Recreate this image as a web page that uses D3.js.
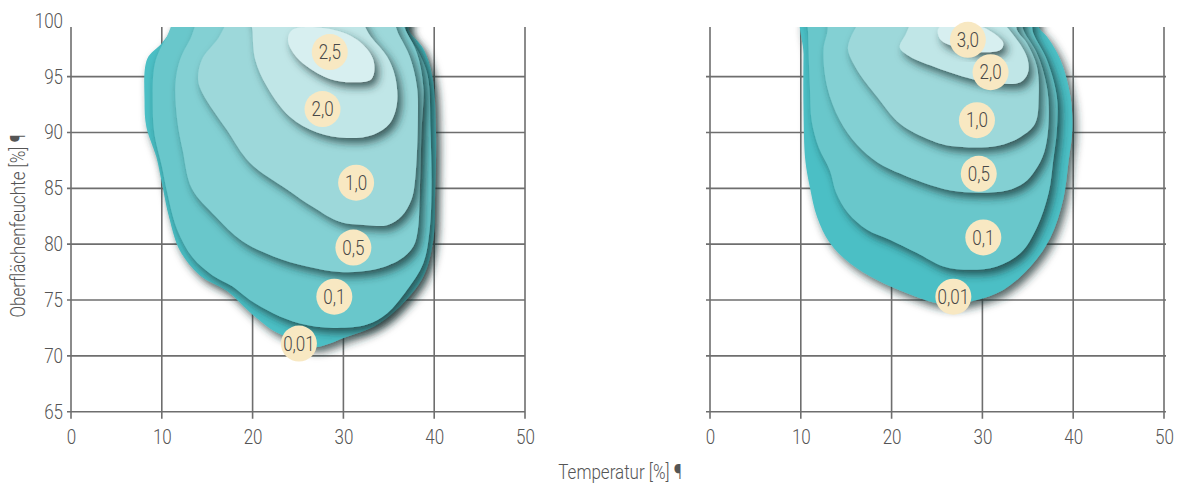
<!DOCTYPE html>
<html>
<head>
<meta charset="utf-8">
<script src="https://cdn.jsdelivr.net/npm/d3@7"></script>
<style>
  html, body { margin: 0; padding: 0; background: #fff; }
  svg { display: block; }
  text { font-family: 'Roboto', 'Liberation Sans', sans-serif; font-weight: 300; fill: #555; }
</style>
</head>
<body>
<svg id="chart" width="1177" height="484"></svg>
<script>
// ---------- data ----------
const tempTicks = [0, 10, 20, 30, 40, 50];
const humTicks = [65, 70, 75, 80, 85, 90, 95, 100];
const xTitle = "Temperatur [%] ¶";
const yTitle = "Oberflächenfeuchte [%] ¶";

const levelsLeft = ["0,01", "0,1", "0,5", "1,0", "2,0", "2,5"];
const levelsRight = ["0,01", "0,1", "0,5", "1,0", "2,0", "3,0"];

// contour outlines [temperature, humidity]
const left001 = [[12,101],[37.2,101],[37.2,99.2],[38.8,97.5],[39.8,95],[40.2,90],[40.1,84.6],[39.9,80.4],[38.8,77.1],[36.2,74.4],[33.3,72.6],[30.4,71.7],[27.2,70.8],[25.5,70.9],[23.7,71.7],[22.2,72.3],[19.7,73.9],[17.2,75.8],[14.2,77.2],[12,79.4],[10.8,82.4],[10,85.5],[9.4,87.8],[8.3,90.5],[8.1,92.8],[8.4,96.6],[10,98],[11.4,99.6]];
const left01 = [[12.5,101],[36.6,101],[36.9,99.1],[38.4,97],[39.3,95],[39.6,90],[39.7,84.8],[39.5,81.3],[38.8,78.3],[37,75.9],[34.8,73.8],[32.6,72.8],[28.9,72.5],[25.2,72.9],[22.3,73.8],[19.7,75],[17.8,76.2],[15.6,77.2],[13.4,78.8],[11.7,81.3],[10.6,84.6],[10,87],[9.2,89.8],[9,92.3],[9.25,96.2],[10.5,98.5]];
const left05 = [[15,101],[35.5,101],[37,98.9],[38.1,97.1],[38.8,94.1],[38.6,90],[38.4,84.3],[38.2,81.3],[37.7,79.8],[36.2,78.6],[33.3,77.7],[29.6,77.5],[26,78],[22.3,78.9],[18.8,80.3],[15.9,82.5],[13.3,85],[12.3,88.4],[11.7,91.1],[11.5,94.4],[12,96.5],[13.1,98.3]];
const left10 = [[18.6,101],[34.5,101],[36.2,98.6],[37.3,96.8],[38.1,94.1],[38.2,91.1],[37.9,85.8],[37.5,84],[36.4,82.5],[34.8,81.7],[32.6,81.7],[29.6,82],[26.7,83.3],[23.8,84.9],[19.7,87.3],[17.2,90.2],[14.5,93.5],[14,94.7],[14.4,96.5],[16.1,98.3]];
const left20 = [[20,100.8],[31,100.8],[33,98.6],[34.8,96.8],[35.7,95],[35.9,92.6],[35.1,90.8],[33.3,89.8],[30.4,89.5],[27.1,90],[24.1,91.4],[21.6,94.1],[20.3,96.5],[20,99]];
const left25 = [[24.4,99.2],[28.2,99.3],[31.5,98.3],[33.3,96.5],[33.1,94.8],[31,94.5],[28.5,94.8],[26,95.9],[24.5,97.1],[23.9,98.3]];

const right001 = [[10.4,101],[35.8,101],[36.2,99.4],[37.1,98.6],[38.6,96.5],[39.7,93.2],[39.9,90.2],[39.5,87.5],[38.9,84],[37.5,80.6],[35.3,78],[32.3,75.9],[29.4,75],[26.8,74.6],[25,74.7],[21.7,75.6],[18.4,76.8],[15.4,78.3],[13.2,80.1],[11.8,82.4],[11,85.1],[10.5,87.5],[10.3,92],[10.3,97]];
const right01 = [[10.8,101],[35,101],[35.6,98.9],[37.1,96.5],[38.2,93.2],[38.2,90.2],[37.8,87.5],[37.3,84.6],[36,81.5],[34.2,79.2],[31.6,78],[28.7,77.7],[25.7,78],[22.8,79.2],[19.8,80.4],[17.3,81.3],[15.2,82.8],[13.9,84.6],[13.2,86.6],[12,88.6],[11.2,91],[11,94.1],[10.8,99]];
const right05 = [[13.5,101],[34,101],[34.5,99.2],[36,97.1],[37.1,94.1],[37.3,91.1],[36.8,88.2],[35.8,86.6],[34.6,85.5],[32.7,84.8],[29.8,84.6],[26.5,84.8],[23.5,85.5],[21,86.3],[18.5,87.3],[16.2,88.9],[14.3,91.1],[12.9,94.1],[12.5,97.4],[12.9,98.9]];
const right10 = [[17.3,101],[33.5,101],[33.8,99.2],[34.9,98],[36,95.9],[36.2,93.2],[35.8,90.8],[34.2,89.6],[31.6,88.8],[26.5,88.8],[24.3,89.3],[20.9,90.8],[18.4,93.2],[16.2,95.6],[15.2,97.4],[15.4,98.3],[16,99.3]];
const right20 = [[23,100.6],[30.8,100.6],[33.8,98.3],[35,96.5],[35,95.3],[34.2,94.5],[31.6,94.4],[27.9,95],[24.6,95.9],[22,96.8],[20.9,97.6],[21.5,98.7]];
const right30 = [[25.8,99.7],[29.4,99.6],[31.2,98.9],[32.3,98],[32,97.4],[29.4,97.2],[26.8,97.7],[25.4,98.3],[25.1,99.2]];

// label centres [temperature, humidity] in level order
const labelPosLeft = [[25.1,71.1],[29,75.3],[31.1,79.7],[31.4,85.5],[27.7,92.1],[28.5,97.2]];
const labelPosRight = [[26.8,75.3],[30.1,80.6],[29.6,86.3],[29.4,91.1],[30.9,95.4],[28.4,98.3]];

const shapesLeft = [left001, left01, left05, left10, left20, left25];
const shapesRight = [right001, right01, right05, right10, right20, right30];

// ---------- styles ----------
const palette = ["#4cbfc5", "#69c7cb", "#83d0d3", "#9dd8da", "#c0e6e7", "#d7eff0"];
const gridColor = "#6e6e6e";
const labelFill = "#f8e8c2";
const SX = 0.85; // horizontal condensing of text

// ---------- drawing ----------
const svg = d3.select("#chart");
const defs = svg.append("defs");
const f = defs.append("filter").attr("id", "shadow")
  .attr("x", "-20%").attr("y", "-20%").attr("width", "150%").attr("height", "150%");
f.append("feDropShadow").attr("dx", 4).attr("dy", 5).attr("stdDeviation", 4)
  .attr("flood-color", "#1c3132").attr("flood-opacity", 0.75);

const y = d3.scaleLinear().domain([65, 100]).range([411.7, 20.8]);
const plotTop = 27;

const panels = [
  { id: "L", range: [71, 525], shapes: shapesLeft, levels: levelsLeft, labels: labelPosLeft, showY: true },
  { id: "R", range: [710, 1164], shapes: shapesRight, levels: levelsRight, labels: labelPosRight, showY: false }
];

panels.forEach(p => {
  const x = d3.scaleLinear().domain([0, 50]).range(p.range);
  const g = svg.append("g");

  // grid
  const grid = g.append("g").attr("stroke", gridColor).attr("stroke-width", 1.6);
  grid.selectAll("line.v").data(tempTicks).join("line")
    .attr("x1", d => x(d)).attr("x2", d => x(d))
    .attr("y1", plotTop).attr("y2", y(65) + 7);
  grid.selectAll("line.h").data(humTicks.filter(d => d < 100)).join("line")
    .attr("x1", x(0) - 4).attr("x2", x(50) + (p.showY ? 0 : 2))
    .attr("y1", d => y(d)).attr("y2", d => y(d));

  // contours
  defs.append("clipPath").attr("id", "clip" + p.id)
    .append("rect").attr("x", x(0) - 30).attr("y", plotTop)
    .attr("width", x(50) - x(0) + 60).attr("height", y(65) - plotTop);

  const line = d3.line().x(d => x(d[0])).y(d => y(d[1]))
    .curve(d3.curveCatmullRomClosed.alpha(0.5));
  const cg = g.append("g").attr("clip-path", `url(#clip${p.id})`);
  cg.selectAll("path").data(p.shapes).join("path")
    .attr("d", d => line(d))
    .attr("fill", (d, i) => palette[i])
    .attr("filter", "url(#shadow)");

  // labels
  const items = p.levels.map((lv, i) => ({ lv, pos: p.labels[i] }));
  const lg = g.append("g").selectAll("g").data(items).join("g")
    .attr("transform", d => `translate(${x(d.pos[0])},${y(d.pos[1])})`);
  lg.append("circle").attr("r", 18).attr("fill", labelFill);
  lg.append("text").attr("transform", `scale(${SX},1)`)
    .attr("dy", "0.36em").attr("text-anchor", "middle")
    .attr("font-size", 20).style("fill", "#484848")
    .text(d => d.lv);

  // x axis labels
  const xa = g.append("g").attr("transform", `translate(0,${y(65)})`)
    .call(d3.axisBottom(x).tickValues(tempTicks).tickSize(0).tickPadding(18).tickFormat(d3.format("d")));
  xa.select(".domain").remove();
  xa.selectAll("text").attr("font-size", 20).attr("transform", `scale(${SX},1)`)
    .style("fill", "#555").style("font-family", null);

  if (p.showY) {
    const ya = g.append("g").attr("transform", `translate(${x(0)},0)`)
      .call(d3.axisLeft(y).tickValues(humTicks).tickSize(0).tickPadding(8).tickFormat(d3.format("d")));
    ya.select(".domain").remove();
    ya.selectAll("text").attr("font-size", 20).attr("x", -8 / SX)
      .attr("transform", `scale(${SX},1)`).style("fill", "#555").style("font-family", null);
  }
});

// titles
svg.append("text").attr("transform", `translate(620,479) scale(${SX},1)`)
  .attr("text-anchor", "middle").attr("font-size", 20).text(xTitle);
svg.append("text").attr("transform", `translate(25,226) rotate(-90) scale(${SX},1)`)
  .attr("text-anchor", "middle").attr("font-size", 20).text(yTitle);
</script>
</body>
</html>
